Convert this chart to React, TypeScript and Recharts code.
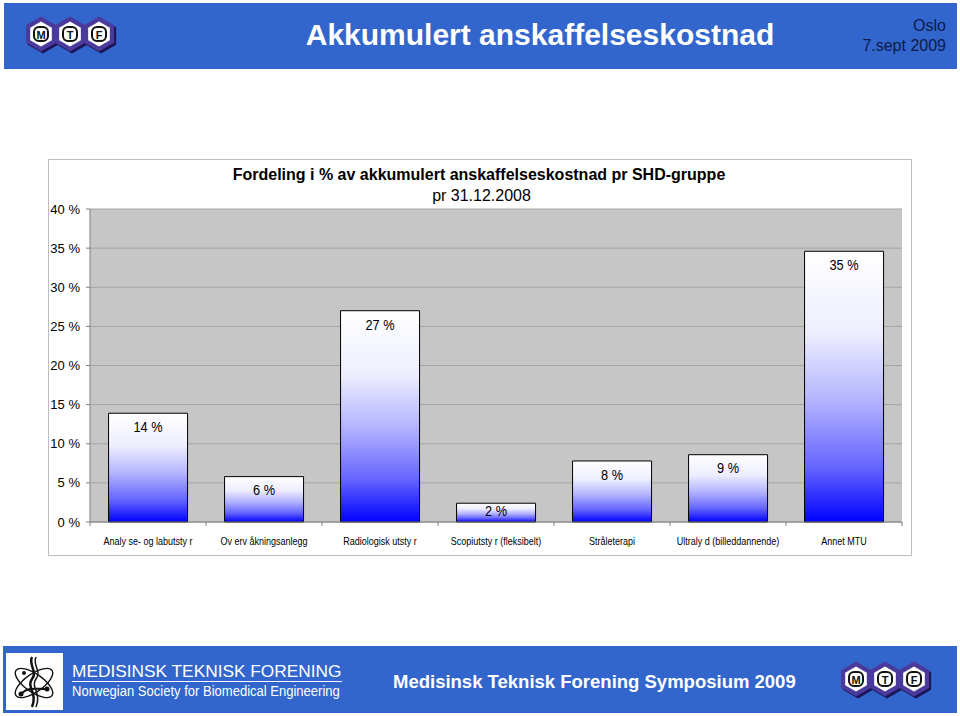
import React from 'react';
import { BarChart, Bar, XAxis, YAxis, CartesianGrid, LabelList } from 'recharts';

const categories = [
  'Analy se- og labutsty r',
  'Ov erv åkningsanlegg',
  'Radiologisk utsty r',
  'Scopiutsty r (fleksibelt)',
  'Stråleterapi',
  'Ultraly d (billeddannende)',
  'Annet MTU',
];
const shares = [13.9, 5.8, 27.0, 2.4, 7.8, 8.6, 34.6];
const yTicks = [0, 5, 10, 15, 20, 25, 30, 35, 40];

const chartTitle = 'Fordeling i % av akkumulert anskaffelseskostnad pr SHD-gruppe';
const chartSubtitle = 'pr 31.12.2008';

const font = '"Liberation Sans", Arial, sans-serif';
const headerBlue = '#3366cc';

const data = categories.map((name, i) => ({ name, value: shares[i] }));

// hexagon points, pointy top
const hex = (cx: number, cy: number, r: number) =>
  [-90, -30, 30, 90, 150, 210]
    .map((a) => {
      const rad = (a * Math.PI) / 180;
      return `${cx + r * Math.cos(rad)},${cy + r * Math.sin(rad)}`;
    })
    .join(' ');

const MtfLogo = ({ left, top }: { left: number; top: number }) => (
  <svg width={92} height={40} style={{ position: 'absolute', left, top }}>
    {['M', 'T', 'F'].map((ch, i) => {
      const cx = 15 + i * 29;
      return (
        <g key={ch}>
          <polygon points={hex(cx + 2, 21, 17.5)} fill="#1b1456" />
          <polygon points={hex(cx, 19, 17.5)} fill="#4a3a9c" />
          <polygon points={hex(cx, 19, 12.5)} fill="#ffffff" />
          <rect x={cx - 7} y={12} width={14} height={14} rx={5} fill="#ffffff" stroke="#111" strokeWidth={2} />
          <text x={cx} y={23.5} textAnchor="middle" fontFamily={font} fontWeight="bold" fontSize={11} fill="#111">
            {ch}
          </text>
        </g>
      );
    })}
  </svg>
);

const SocietyLogo = () => (
  <svg width={57} height={57} style={{ position: 'absolute', left: 6, top: 653, background: '#fff' }}>
    <g fill="none" stroke="#111" strokeWidth={1.4}>
      <ellipse cx={28} cy={30} rx={22} ry={9} transform="rotate(-35 28 30)" />
      <ellipse cx={28} cy={30} rx={22} ry={9} transform="rotate(35 28 30)" />
      <path d="M26 4 C22 12, 32 18, 26 26 C20 34, 32 40, 26 54" strokeWidth={2.5} />
      <path d="M30 4 C26 12, 36 18, 30 26 C24 34, 36 40, 30 54" strokeWidth={1.5} />
      <path d="M16 40 C22 34, 30 36, 40 36" strokeWidth={2} />
    </g>
    <circle cx={15} cy={41} r={2.5} fill="#111" />
    <circle cx={41} cy={36} r={2.5} fill="#111" />
    <circle cx={18} cy={20} r={2} fill="#111" />
  </svg>
);

const CategoryTick = (props: any) => {
  const { x, y, payload, index } = props;
  const half = payload.offset || 0;
  const axisY = y - 19;
  return (
    <g>
      <line x1={x - half} y1={axisY} x2={x - half} y2={axisY + 4} stroke="#808080" />
      {index === categories.length - 1 && (
        <line x1={x + half} y1={axisY} x2={x + half} y2={axisY + 4} stroke="#808080" />
      )}
      <text
        transform={`translate(${x},${y}) scale(0.82,1)`}
        textAnchor="middle"
        dominantBaseline="central"
        fontFamily={font}
        fontSize={11}
        fill="#000"
      >
        {payload.value}
      </text>
    </g>
  );
};

const ValueLabel = (props: any) => {
  const { x, y, width, height, value } = props;
  const cy = y + Math.min(14, height * 0.4);
  return (
    <text
      transform={`translate(${x + width / 2},${cy}) scale(0.88,1)`}
      textAnchor="middle"
      dominantBaseline="central"
      fontFamily={font}
      fontSize={14.5}
      fill="#000"
    >
      {`${Math.round(value)} %`}
    </text>
  );
};

export default function App() {
  return (
    <div style={{ position: 'absolute', left: 0, top: 0, width: 960, height: 716, background: '#fff', fontFamily: font }}>
      {/* header */}
      <div style={{ position: 'absolute', left: 4, top: 3, width: 953, height: 66, background: headerBlue }} />
      <MtfLogo left={26} top={15} />
      <div style={{ position: 'absolute', left: 240, top: 19, width: 600, lineHeight: '32px', fontSize: 30, fontWeight: 'bold', color: '#fff', textAlign: 'center' }}>
        Akkumulert anskaffelseskostnad
      </div>
      <div style={{ position: 'absolute', right: 14, top: 16, lineHeight: '20px', fontSize: 16, color: '#0c1a4c', textAlign: 'right' }}>
        Oslo
        <br />
        7.sept 2009
      </div>

      {/* chart box */}
      <div style={{ position: 'absolute', left: 48, top: 159, width: 864, height: 397, boxShadow: 'inset 0 0 0 1px #bdbdbd', background: '#fff' }}>
        <div style={{ position: 'absolute', left: 0, top: 5, width: 864, textAlign: 'center', lineHeight: '21px', fontSize: 16, color: '#000' }}>
          <div style={{ fontWeight: 'bold', marginLeft: -2 }}>{chartTitle}</div>
          <div style={{ marginLeft: 3 }}>{chartSubtitle}</div>
        </div>
        <BarChart
          width={864}
          height={397}
          data={data}
          margin={{ top: 50, right: 10, left: 0, bottom: 0 }}
          barCategoryGap="16%"
          style={{ position: 'absolute', left: 0, top: 0 }}
        >
          <defs>
            <linearGradient id="barGrad" x1="0" y1="0" x2="0" y2="1">
              <stop offset="0" stopColor="#ffffff" />
              <stop offset="0.3" stopColor="#eeeeff" />
              <stop offset="0.55" stopColor="#b4b4ff" />
              <stop offset="0.8" stopColor="#6464ff" />
              <stop offset="1" stopColor="#0000ff" />
            </linearGradient>
          </defs>
          <CartesianGrid vertical={false} fill="#c6c6c6" stroke="#a4a4a4" />
          <XAxis
            dataKey="name"
            height={34}
            axisLine={{ stroke: '#808080' }}
            tickLine={false}
            tickSize={4}
            tickMargin={15}
            interval={0}
            tick={<CategoryTick />}
          />
          <YAxis
            width={42}
            domain={[0, 40]}
            ticks={yTicks}
            tickFormatter={(v: number) => `${v} %`}
            axisLine={{ stroke: '#808080' }}
            tickLine={{ stroke: '#808080' }}
            tickSize={4}
            tickMargin={6}
            tick={{ fill: '#000', fontSize: 13, fontFamily: font }}
          />
          <Bar dataKey="value" fill="url(#barGrad)" stroke="#000" strokeWidth={1} isAnimationActive={false}>
            <LabelList dataKey="value" content={<ValueLabel />} />
          </Bar>
        </BarChart>
      </div>

      {/* footer */}
      <div style={{ position: 'absolute', left: 3, top: 646, width: 954, height: 67, background: headerBlue }} />
      <SocietyLogo />
      <div style={{ position: 'absolute', left: 72, top: 661, lineHeight: '20px', fontSize: 17.3, color: '#fff', whiteSpace: 'nowrap' }}>
        MEDISINSK TEKNISK FORENING
      </div>
      <div style={{ position: 'absolute', left: 72, top: 681, width: 270, height: 1, background: '#fff' }} />
      <div style={{ position: 'absolute', left: 72, top: 682, lineHeight: '18px', fontSize: 14, color: '#fff', whiteSpace: 'nowrap', transform: 'scaleX(0.93)', transformOrigin: 'left' }}>
        Norwegian Society for Biomedical Engineering
      </div>
      <div style={{ position: 'absolute', left: 393, top: 671, lineHeight: '22px', fontSize: 18.5, fontWeight: 'bold', color: '#fff', whiteSpace: 'nowrap' }}>
        Medisinsk Teknisk Forening Symposium 2009
      </div>
      <MtfLogo left={841} top={660} />
    </div>
  );
}
